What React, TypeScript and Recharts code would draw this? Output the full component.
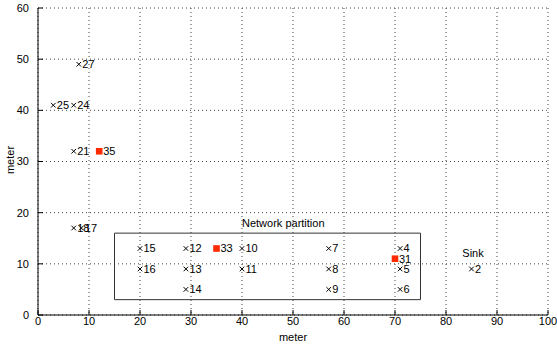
import { ScatterChart, Scatter, XAxis, YAxis, CartesianGrid, ReferenceArea, Label } from 'recharts'

// sensor nodes drawn as "x" markers with their id next to them
const nodeIds = ['27', '25', '24', '21', '18', '17', '15', '16', '12', '13', '14', '10', '11', '7', '8', '9', '4', '5', '6', '2']
const nodeX = [8, 3, 7, 7, 7, 8.5, 20, 20, 29, 29, 29, 40, 40, 57, 57, 57, 71, 71, 71, 85]
const nodeY = [49, 41, 41, 32, 17, 17, 13, 9, 13, 9, 5, 13, 9, 13, 9, 5, 13, 9, 5, 9]

// cluster heads / relays (red squares)
const headIds = ['35', '33', '31']
const headX = [12, 35, 70]
const headY = [32, 13, 11]

// free text annotations (left anchored)
const noteText = ['Network partition', 'Sink']
const noteX = [40, 83.2]
const noteY = [17.9, 12.2]

const xTicks = [0, 10, 20, 30, 40, 50, 60, 70, 80, 90, 100]
const yTicks = [0, 10, 20, 30, 40, 50, 60]

const FONT = '"Liberation Sans", Arial, Helvetica, sans-serif'
const RED = '#ff2a00'

const nodes = nodeIds.map((id, i) => ({ id, x: nodeX[i], y: nodeY[i] }))
const heads = headIds.map((id, i) => ({ id, x: headX[i], y: headY[i] }))
const notes = noteText.map((t, i) => ({ id: t, x: noteX[i], y: noteY[i] }))

function Cross(p: any) {
  const { cx, cy, payload } = p
  const s = 2.3
  return (
    <g>
      <path d={`M${cx - s},${cy - s}L${cx + s},${cy + s}M${cx - s},${cy + s}L${cx + s},${cy - s}`} stroke="#000" strokeWidth={1} />
      <text x={cx + 3.5} y={cy} dy="0.36em" fontSize={11} fill="#000">{payload.id}</text>
    </g>
  )
}

function Head(p: any) {
  const { cx, cy, payload } = p
  return (
    <g>
      <rect x={cx - 3.3} y={cy - 3.3} width={6.6} height={6.6} fill={RED} />
      <text x={cx + 4} y={cy} dy="0.36em" fontSize={11} fill="#000">{payload.id}</text>
    </g>
  )
}

function Note(p: any) {
  const { cx, cy, payload } = p
  return (
    <text x={cx} y={cy} dy="0.36em" fontSize={11} fill="#000">{payload.id}</text>
  )
}

export default function App() {
  return (
    <div style={{ position: 'absolute', left: 0, top: 0, background: '#fff', fontFamily: FONT }}>
      <ScatterChart width={557} height={347} margin={{ top: 8, right: 9, left: 0, bottom: 0 }}>
        <CartesianGrid stroke="#444" strokeDasharray="1 3" />
        <XAxis
          type="number"
          dataKey="x"
          domain={[0, 100]}
          ticks={xTicks}
          height={32}
          tickSize={-5}
          tickMargin={7}
          axisLine={{ stroke: '#000' }}
          tickLine={{ stroke: '#000' }}
          tick={{ fontSize: 11, fill: '#000' }}
        >
          <Label value="meter" position="insideBottom" offset={6} style={{ fontSize: 11, fill: '#000' }} />
        </XAxis>
        <XAxis
          xAxisId="top"
          orientation="top"
          type="number"
          dataKey="x"
          domain={[0, 100]}
          ticks={xTicks}
          height={0}
          tickSize={-5}
          tickFormatter={() => ''}
          axisLine={{ stroke: '#000' }}
          tickLine={{ stroke: '#000' }}
        />
        <YAxis
          type="number"
          dataKey="y"
          domain={[0, 60]}
          ticks={yTicks}
          width={38}
          tickSize={-5}
          tickMargin={14}
          axisLine={{ stroke: '#000' }}
          tickLine={{ stroke: '#000' }}
          tick={{ fontSize: 11, fill: '#000' }}
        >
          <Label
            content={() => (
              <text transform="translate(13.5,160) rotate(-90)" textAnchor="middle" fontSize={11} fill="#000">
                meter
              </text>
            )}
          />
        </YAxis>
        <YAxis
          yAxisId="right"
          orientation="right"
          type="number"
          dataKey="y"
          domain={[0, 60]}
          ticks={yTicks}
          width={0}
          tickSize={-5}
          tickFormatter={() => ''}
          axisLine={{ stroke: '#000' }}
          tickLine={{ stroke: '#000' }}
        />
        <ReferenceArea x1={15} x2={75} y1={3} y2={16} fill="none" stroke="#333" strokeWidth={1} fillOpacity={0} />
        <Scatter data={nodes} shape={Cross} isAnimationActive={false} />
        <Scatter data={heads} shape={Head} isAnimationActive={false} />
        <Scatter data={notes} shape={Note} isAnimationActive={false} />
      </ScatterChart>
    </div>
  )
}
